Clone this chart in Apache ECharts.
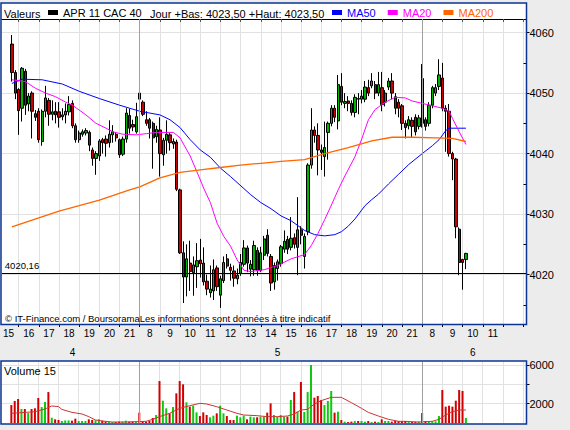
<!DOCTYPE html>
<html>
<head>
<meta charset="utf-8">
<title>APR 11 CAC 40</title>
<script src="https://cdn.jsdelivr.net/npm/echarts@6.0.0/dist/echarts.min.js"></script>
<style>
  html, body { margin: 0; padding: 0; background: #ececec; }
  #chart { width: 570px; height: 430px; }
</style>
</head>
<body>
<div id="chart"></div>
<script>
// seances affichees, bougies de 10 minutes
var sessions = [
  { day: '4', start: '15:10', end: '21:50' },
  { day: '5', start: '08:00', end: '21:50' },
  { day: '6', start: '08:00', end: '13:10' }
];
var hourLabels = ['15','16','17','18','19','20','21','8','9','10','11','12','13','14','15','16','17','18','19','20','21','8','9','10','11'];
var priceTicks = [4020, 4030, 4040, 4050, 4060];
var priceMinorTicks = [4015, 4025, 4035, 4045, 4055];
var volumeTicks = [2000, 4000, 6000];
var volumeLabels = [2000, 6000];

// premiere bougie = 4 15:40
var firstSlot = 3;
var opens = [
  4058.1, 4053.4, 4050.6, 4047.5, 4053.6, 4048.2, 4050.0, 4046.6, 4047.0, 4042.0,
  4047.0, 4048.8, 4046.5, 4047.0, 4046.9, 4046.1, 4046.4, 4046.9, 4048.3, 4044.6,
  4042.3, 4043.2, 4043.4, 4043.5, 4040.6, 4039.2, 4039.6, 4042.3, 4042.4, 4041.8,
  4043.1, 4043.2, 4042.3, 4039.9, 4042.4, 4046.3, 4044.8, 4043.6, 4050.0, 4048.5,
  4045.6, 4045.6, 4045.0, 4042.8, 4043.9, 4039.8, 4042.2, 4043.1, 4041.6, 4041.9,
  4034.0, 4023.6, 4019.6, 4021.9, 4020.3, 4021.3, 4022.4, 4021.9, 4018.9, 4017.0,
  4017.3, 4021.1, 4016.6, 4019.0, 4022.6, 4021.2, 4020.6, 4019.3, 4020.2, 4021.7,
  4024.4, 4020.9, 4020.8, 4024.0, 4020.7, 4023.2, 4026.5, 4023.0, 4018.8, 4021.0,
  4021.8, 4024.2, 4025.8, 4024.5, 4026.1, 4024.5, 4027.4, 4023.0, 4027.1, 4038.1,
  4043.9, 4043.0, 4040.6, 4039.5, 4043.5, 4045.0, 4047.5, 4045.4, 4051.1, 4048.3,
  4048.7, 4048.3, 4046.8, 4049.1, 4049.0, 4049.0, 4050.9, 4051.2, 4051.4, 4050.0,
  4050.9, 4048.5, 4051.0, 4052.0, 4049.4, 4048.5, 4047.9, 4045.0, 4044.6, 4045.5,
  4046.0, 4044.5, 4052.4, 4045.6, 4045.0, 4048.0, 4050.0, 4051.1, 4052.5, 4047.5,
  4047.0, 4040.0, 4039.1, 4027.5, 4022.5, 4022.5
];
var closes = [
  4053.4, 4050.0, 4047.1, 4054.1, 4048.0, 4049.5, 4047.0, 4046.0, 4042.3, 4047.0,
  4049.2, 4046.5, 4046.9, 4046.4, 4046.0, 4046.4, 4047.0, 4048.1, 4044.6, 4042.3,
  4043.4, 4043.6, 4043.8, 4041.4, 4039.2, 4040.0, 4042.1, 4041.8, 4041.7, 4043.2,
  4043.6, 4042.6, 4039.8, 4042.4, 4046.7, 4044.2, 4044.4, 4046.1, 4049.0, 4046.5,
  4045.0, 4044.2, 4042.6, 4044.0, 4040.0, 4042.2, 4043.2, 4041.8, 4042.0, 4034.1,
  4023.6, 4019.6, 4022.6, 4020.5, 4021.6, 4022.3, 4021.8, 4018.8, 4017.6, 4017.6,
  4020.8, 4018.0, 4019.3, 4022.0, 4021.4, 4020.7, 4019.4, 4019.9, 4022.0, 4024.4,
  4021.9, 4021.7, 4024.8, 4020.7, 4023.6, 4025.9, 4023.5, 4018.6, 4021.5, 4022.1,
  4024.6, 4025.5, 4024.2, 4026.0, 4025.0, 4027.4, 4026.5, 4026.3, 4038.1, 4043.9,
  4043.0, 4040.6, 4040.2, 4041.0, 4045.0, 4047.5, 4046.0, 4051.4, 4048.5, 4048.6,
  4048.3, 4046.8, 4049.3, 4049.0, 4049.5, 4051.0, 4050.0, 4052.0, 4050.0, 4051.4,
  4048.1, 4050.0, 4052.0, 4050.0, 4047.5, 4047.5, 4045.0, 4044.3, 4045.6, 4044.5,
  4043.6, 4045.9, 4045.0, 4044.5, 4048.0, 4050.9, 4050.9, 4053.0, 4047.5, 4047.0,
  4040.0, 4039.1, 4027.9, 4022.0, 4022.0, 4023.5
];
var lows = [
  4051.9, 4049.0, 4043.1, 4045.3, 4046.4, 4047.0, 4042.5, 4045.4, 4041.8, 4041.3,
  4046.0, 4044.6, 4045.5, 4045.0, 4044.3, 4045.5, 4045.0, 4046.3, 4044.2, 4041.8,
  4041.8, 4042.8, 4043.0, 4040.4, 4038.0, 4036.5, 4038.8, 4040.0, 4039.5, 4041.0,
  4041.8, 4042.0, 4039.3, 4039.6, 4041.8, 4043.3, 4043.7, 4043.3, 4048.6, 4046.2,
  4044.6, 4042.5, 4037.5, 4041.8, 4036.2, 4038.0, 4040.0, 4040.5, 4040.8, 4033.8,
  4023.4, 4015.3, 4016.4, 4017.3, 4016.5, 4017.8, 4019.5, 4018.2, 4016.6, 4016.2,
  4015.8, 4017.3, 4014.5, 4018.6, 4021.0, 4019.0, 4018.0, 4018.4, 4019.8, 4021.3,
  4020.4, 4019.7, 4019.8, 4019.8, 4020.4, 4022.4, 4023.0, 4017.3, 4017.5, 4019.0,
  4021.3, 4023.6, 4023.4, 4024.0, 4024.3, 4019.9, 4025.0, 4021.0, 4026.5, 4037.5,
  4041.8, 4036.4, 4037.3, 4036.2, 4039.0, 4044.5, 4045.2, 4044.0, 4048.0, 4047.5,
  4047.0, 4046.3, 4046.0, 4046.5, 4048.3, 4048.5, 4049.5, 4050.8, 4049.0, 4049.5,
  4047.0, 4047.8, 4050.5, 4049.0, 4046.5, 4046.0, 4043.9, 4042.5, 4044.0, 4042.6,
  4043.0, 4044.0, 4044.3, 4043.8, 4044.5, 4047.5, 4049.5, 4050.5, 4047.0, 4040.3,
  4039.5, 4035.6, 4026.0, 4019.9, 4017.5, 4020.9
];
var highs = [
  4059.6, 4053.8, 4050.8, 4054.3, 4054.0, 4050.0, 4050.3, 4047.2, 4047.5, 4047.3,
  4051.2, 4049.2, 4048.8, 4048.5, 4048.5, 4047.5, 4048.3, 4049.5, 4048.8, 4045.0,
  4043.8, 4044.0, 4044.2, 4043.8, 4041.0, 4040.4, 4042.4, 4042.6, 4043.0, 4045.5,
  4044.7, 4043.5, 4042.5, 4042.8, 4047.5, 4047.4, 4045.6, 4048.4, 4054.6, 4048.8,
  4047.0, 4045.9, 4045.3, 4044.6, 4046.0, 4042.6, 4045.5, 4043.4, 4042.5, 4042.3,
  4034.2, 4025.5, 4025.0, 4025.6, 4023.0, 4025.2, 4025.9, 4024.5, 4020.0, 4021.5,
  4022.5, 4021.5, 4019.8, 4023.0, 4023.4, 4021.8, 4021.5, 4021.0, 4023.4, 4025.7,
  4024.8, 4022.4, 4025.6, 4024.5, 4024.6, 4026.4, 4027.5, 4023.4, 4022.0, 4022.5,
  4024.9, 4027.3, 4026.4, 4029.5, 4026.8, 4032.8, 4028.0, 4026.8, 4038.4, 4047.5,
  4044.5, 4045.0, 4041.5, 4045.3, 4045.3, 4048.0, 4048.0, 4053.0, 4053.3, 4050.0,
  4049.5, 4048.8, 4049.8, 4050.0, 4050.5, 4052.0, 4052.2, 4053.3, 4052.0, 4053.5,
  4053.5, 4050.5, 4052.5, 4053.3, 4050.0, 4049.0, 4048.2, 4045.5, 4046.2, 4046.0,
  4046.5, 4046.4, 4054.8, 4046.0, 4048.5, 4051.2, 4051.5, 4055.6, 4055.0, 4048.0,
  4048.2, 4040.3, 4039.3, 4027.8, 4022.6, 4023.6
];
var volumes = [
  1860, 2280, 2480, 1450, 1450, 1030, 1450, 1520, 2590, 1650,
  2170, 3200, 550, 380, 310, 210, 270, 270, 240, 450,
  210, 210, 210, 380, 310, 280, 380, 240, 140, 100,
  100, 100, 140, 140, 240, 140, 140, 170, 1070, 210,
  140, 210, 520, 830, 4340, 2310, 1520, 1000, 1650, 3070,
  4340, 4000, 2140, 1690, 1790, 1100, 720, 1100, 830, 590,
  760, 1000, 1790, 1000, 720, 310, 310, 760, 590, 760,
  380, 660, 590, 590, 660, 660, 1070, 2030, 830, 660,
  830, 660, 660, 2380, 3200, 1170, 4240, 1140, 3200, 6000,
  2620, 2790, 2380, 1860, 2280, 3310, 1070, 1170, 310, 140,
  100, 140, 210, 210, 210, 140, 210, 100, 140, 100,
  380, 210, 210, 140, 210, 210, 210, 210, 100, 100,
  100, 140, 1030, 210, 170, 170, 170, 720, 3410, 1690,
  1790, 1690, 2310, 3410, 3310, 521
];

// moyennes mobiles : [bougie, valeur]
var ma50 = [[3,4051.6],[6,4052.3],[12,4052.2],[18,4051.5],[23,4050.3],[29,4049.1],[35,4048.0],[41,4047.0],[47,4046.4],[50,4045.6],[53,4044.3],[56,4042.3],[59,4040.6],[62,4039.4],[65,4037.6],[68,4036.2],[74,4033.2],[77,4031.9],[80,4030.9],[83,4029.7],[86,4028.9],[90,4027.3],[93,4026.6],[96,4026.4],[99,4026.6],[101,4027.1],[103,4028.0],[105,4029.2],[108,4031.4],[110,4032.4],[112,4033.3],[115,4035.0],[118,4036.6],[121,4038.2],[125,4040.0],[128,4041.3],[130,4042.3],[132,4043.8],[133,4044.2],[138,4044.2]];
var ma20 = [[3,4052.2],[7,4051.9],[10,4050.8],[13,4050.0],[16,4049.4],[19,4048.5],[21,4048.0],[25,4046.4],[28,4045.0],[31,4044.2],[33,4043.6],[36,4043.2],[40,4043.1],[43,4043.3],[46,4043.5],[51,4043.5],[53,4042.6],[56,4039.6],[58,4037.0],[60,4034.3],[62,4031.9],[64,4028.5],[66,4026.3],[68,4024.7],[70,4022.4],[72,4020.7],[74,4020.5],[78,4020.8],[82,4021.5],[86,4022.6],[90,4023.3],[92,4024.8],[94,4026.8],[96,4029.1],[98,4031.5],[100,4034.0],[102,4036.3],[105,4039.5],[107,4042.4],[109,4045.6],[111,4047.3],[114,4048.5],[117,4049.3],[120,4049.2],[122,4048.7],[125,4048.3],[128,4047.9],[131,4047.5],[133,4047.0],[134,4045.8],[136,4043.6],[138,4041.5]];
var ma200 = [[3,4027.9],[17,4030.5],[29,4032.3],[38,4034.0],[41,4034.5],[47,4036.0],[53,4036.9],[59,4037.3],[65,4037.7],[71,4038.1],[77,4038.4],[83,4038.7],[90,4039.0],[96,4040.0],[103,4041.0],[110,4042.1],[116,4042.7],[122,4042.7],[129,4042.6],[134,4042.5],[138,4042.0]];
var volMa = [[3,1000],[6,1070],[10,1170],[13,1450],[15,1760],[17,1700],[18,1410],[21,1100],[24,930],[26,655],[28,310],[30,207],[33,103],[37,103],[40,138],[43,172],[45,379],[47,655],[50,1000],[53,1517],[56,1792],[59,2033],[61,1964],[64,1689],[67,1344],[70,1000],[72,827],[76,758],[79,655],[82,655],[85,724],[87,931],[89,1344],[91,1413],[93,1964],[95,2309],[98,2654],[101,2654],[104,2102],[107,1517],[109,1103],[112,724],[115,379],[118,172],[120,172],[124,103],[128,172],[130,379],[132,827],[134,1172],[136,1344],[138,1344]];

var refPrice = 4020.16;
var lastPrice = 4023.5;
var lastVolume = 521;

var FONT = '"Liberation Sans", Arial, sans-serif';
var BLUE_FRAME = '#0b3492';
var GRID_COLOR = '#e1e1e1';

function toMin(t) { var p = t.split(':'); return (+p[0]) * 60 + (+p[1]); }
function pad(n) { return (n < 10 ? '0' : '') + n; }

var categories = [], catMin = [], dayStart = [], dayEnd = [];
sessions.forEach(function (s) {
  dayStart.push(categories.length);
  for (var m = toMin(s.start); m <= toMin(s.end); m += 10) {
    categories.push(s.day + ' ' + pad(Math.floor(m / 60)) + ':' + pad(m % 60));
    catMin.push(m);
  }
  dayEnd.push(categories.length - 1);
});

// libelle d'heure au milieu de chaque heure
var labelAt = {};
var k = 0;
catMin.forEach(function (m, i) {
  if (m % 60 === 30 && k < hourLabels.length) labelAt[i] = hourLabels[k++];
});
function isHour(i) { return catMin[i] % 60 === 0; }

var dayLabelAt = {};
sessions.forEach(function (s, d) {
  var a = Math.max(dayStart[d], firstSlot);
  dayLabelAt[Math.floor((a + dayEnd[d]) / 2)] = s.day;
});
var separators = dayStart.slice(1).map(function (i) { return categories[i]; });

var candleData = [], volumeData = [];
for (var i = 0; i < firstSlot; i++) {
  candleData.push(['-', '-', '-', '-']);
  volumeData.push('-');
}
for (var j = 0; j < opens.length; j++) {
  candleData.push([opens[j], closes[j], lows[j], highs[j]]);
  volumeData.push({
    value: volumes[j],
    itemStyle: { color: closes[j] >= opens[j] ? '#10c810' : '#d00000' }
  });
}

var sepLines = separators.map(function (c) {
  return { xAxis: c, lineStyle: { color: '#a0a0a0', width: 1, type: 'solid' }, label: { show: false } };
});

var chart = echarts.init(document.getElementById('chart'), null, { renderer: 'svg' });

var option = {
  animation: false,
  backgroundColor: '#ececec',
  textStyle: { fontFamily: FONT },
  graphic: [
    { type: 'rect', z: -10, silent: true, shape: { x: 1, y: 3, width: 525.5, height: 321.5 }, style: { fill: '#fff' } },
    { type: 'rect', z: -10, silent: true, shape: { x: 1, y: 361, width: 525.5, height: 63 }, style: { fill: '#fff' } },
    { type: 'rect', z: 100, silent: true, shape: { x: 1, y: 3, width: 525.5, height: 321.5 }, style: { fill: 'none', stroke: BLUE_FRAME, lineWidth: 1.5 } },
    { type: 'rect', z: 100, silent: true, shape: { x: 1, y: 361, width: 525.5, height: 63 }, style: { fill: 'none', stroke: BLUE_FRAME, lineWidth: 1.5 } },
    { type: 'text', z: 100, silent: true, style: { text: 'Valeurs', x: 4, y: 13.5, verticalAlign: 'middle', fontSize: 11, fontFamily: FONT, fill: '#000' } },
    { type: 'text', z: 100, silent: true, style: { text: 'Jour +Bas: 4023,50 +Haut: 4023,50', x: 150, y: 13.5, verticalAlign: 'middle', fontSize: 11, fontFamily: FONT, fill: '#000' } },
    { type: 'text', z: 100, silent: true, style: { text: 'Volume 15', x: 4, y: 370.5, verticalAlign: 'middle', fontSize: 11, fontFamily: FONT, fill: '#000' } },
    { type: 'text', z: 100, silent: true, style: { text: '\u00a9 IT-Finance.com / BoursoramaLes informations sont donn\u00e9es \u00e0 titre indicatif', x: 5, y: 318, verticalAlign: 'middle', fontSize: 9.5, fontFamily: FONT, fill: '#000' } }
  ],
  legend: [
    {
      left: 48, top: 7, padding: 0, itemWidth: 10, itemHeight: 5, selectedMode: false,
      textStyle: { fontSize: 11, fontFamily: FONT, color: '#000' },
      data: [{ name: 'APR 11 CAC 40', icon: 'rect', itemStyle: { color: '#000', borderWidth: 0 } }]
    },
    {
      left: 332, top: 7, padding: 0, itemWidth: 10, itemHeight: 5, itemGap: 12, selectedMode: false,
      textStyle: { fontSize: 11, fontFamily: FONT },
      data: [
        { name: 'MA50', icon: 'rect', textStyle: { color: '#0000ff' } },
        { name: 'MA20', icon: 'rect', textStyle: { color: '#ff00ff' } },
        { name: 'MA200', icon: 'rect', textStyle: { color: '#ff6600' } }
      ]
    }
  ],
  grid: [
    { left: 1.25, top: 19, width: 525.25, height: 305 },
    { left: 1.25, top: 362, width: 525.25, height: 61 }
  ],
  xAxis: [
    {
      type: 'category', gridIndex: 0, data: categories, boundaryGap: false,
      axisLine: { show: false },
      axisTick: { show: true, length: 3, interval: function (i) { return isHour(i); }, lineStyle: { color: '#000' } },
      axisLabel: {
        margin: 4, fontSize: 10, fontFamily: FONT, color: '#000',
        interval: function (i) { return labelAt[i] !== undefined; },
        formatter: function (v, i) { return labelAt[i] || ''; }
      },
      splitLine: { show: true, interval: function (i) { return isHour(i); }, lineStyle: { color: GRID_COLOR } }
    },
    {
      type: 'category', gridIndex: 0, data: categories, boundaryGap: false, position: 'bottom', offset: 19,
      axisLine: { show: false }, axisTick: { show: false }, splitLine: { show: false },
      axisLabel: {
        margin: 4, fontSize: 10, fontFamily: FONT, color: '#000',
        interval: function (i) { return dayLabelAt[i] !== undefined; },
        formatter: function (v, i) { return dayLabelAt[i] || ''; }
      }
    },
    {
      type: 'category', gridIndex: 0, data: categories, boundaryGap: false, position: 'top',
      axisLine: { show: true, lineStyle: { color: '#000', width: 1 } },
      axisTick: { show: true, inside: true, length: 3, interval: function (i) { return isHour(i); }, lineStyle: { color: '#555' } },
      axisLabel: { show: false }, splitLine: { show: false }
    },
    {
      type: 'category', gridIndex: 1, data: categories, boundaryGap: false,
      axisLine: { show: false }, axisTick: { show: false }, axisLabel: { show: false },
      splitLine: { show: true, interval: function (i) { return isHour(i); }, lineStyle: { color: GRID_COLOR } }
    }
  ],
  yAxis: [
    {
      type: 'value', gridIndex: 0, position: 'right', min: 4011.83, max: 4062.25,
      axisLine: { show: false },
      axisTick: { show: true, length: 3, customValues: priceTicks, lineStyle: { color: '#000' } },
      axisLabel: { customValues: priceTicks, margin: 3, fontSize: 11, fontFamily: FONT, color: '#000', formatter: function (v) { return String(v); } },
      splitLine: { show: true, lineStyle: { color: GRID_COLOR } }
    },
    {
      type: 'value', gridIndex: 0, position: 'right', min: 4011.83, max: 4062.25,
      axisLine: { show: false },
      axisTick: { show: true, inside: true, length: 3, customValues: priceMinorTicks, lineStyle: { color: '#000' } },
      axisLabel: { show: false }, splitLine: { show: false }
    },
    {
      type: 'value', gridIndex: 1, position: 'right', min: 0, max: 6310, interval: 2000,
      axisLine: { show: false },
      axisTick: { show: true, length: 3, customValues: volumeTicks, lineStyle: { color: '#000' } },
      axisLabel: { customValues: volumeLabels, margin: 3, fontSize: 11, fontFamily: FONT, color: '#000', formatter: function (v) { return String(v); } },
      splitLine: { show: true, lineStyle: { color: GRID_COLOR } }
    }
  ],
  series: [
    {
      name: 'APR 11 CAC 40', type: 'candlestick', xAxisIndex: 0, yAxisIndex: 0,
      data: candleData, barWidth: 2.8,
      itemStyle: { color: '#00b400', color0: '#cc0000', borderColor: '#000', borderColor0: '#000', borderWidth: 1 },
      markLine: {
        symbol: ['none', 'none'], silent: true, animation: false,
        data: sepLines.concat([
          {
            yAxis: refPrice, lineStyle: { color: '#000', width: 1, type: 'solid' },
            label: { show: true, position: 'insideStartTop', distance: 3, formatter: '4020,16', color: '#000', fontSize: 9.5, fontFamily: FONT }
          },
          {
            yAxis: lastPrice, lineStyle: { opacity: 0 },
            label: {
              show: true, position: 'end', distance: 1, formatter: '4023,50', color: '#000', fontSize: 11, fontFamily: FONT,
              backgroundColor: '#ffcc00', borderColor: '#5a4a00', borderWidth: 1, padding: [4, 1.5, 3, 1.5]
            }
          }
        ])
      }
    },
    { name: 'MA50', type: 'line', xAxisIndex: 0, yAxisIndex: 0, data: ma50, showSymbol: false, color: '#0000ff', lineStyle: { width: 1, color: '#0000ff' }, z: 3 },
    { name: 'MA20', type: 'line', xAxisIndex: 0, yAxisIndex: 0, data: ma20, showSymbol: false, color: '#ff00ff', lineStyle: { width: 1, color: '#ff00ff' }, z: 3 },
    { name: 'MA200', type: 'line', xAxisIndex: 0, yAxisIndex: 0, data: ma200, showSymbol: false, color: '#ff6600', lineStyle: { width: 1.3, color: '#ff6600' }, z: 3 },
    {
      name: 'Volume', type: 'bar', xAxisIndex: 3, yAxisIndex: 2, data: volumeData, barWidth: 2,
      markLine: {
        symbol: ['none', 'none'], silent: true, animation: false,
        data: sepLines.concat([
          {
            yAxis: lastVolume, lineStyle: { opacity: 0 },
            label: {
              show: true, position: 'end', distance: 1, formatter: '521', color: '#000', fontSize: 11, fontFamily: FONT,
              backgroundColor: '#ffcc00', borderColor: '#5a4a00', borderWidth: 1, padding: [3, 1.5, 2, 1.5]
            }
          }
        ])
      }
    },
    { name: 'Volume 15', type: 'line', xAxisIndex: 3, yAxisIndex: 2, data: volMa, showSymbol: false, lineStyle: { width: 1, color: '#cc3333' }, z: 3 }
  ]
};

chart.setOption(option);
</script>
</body>
</html>
